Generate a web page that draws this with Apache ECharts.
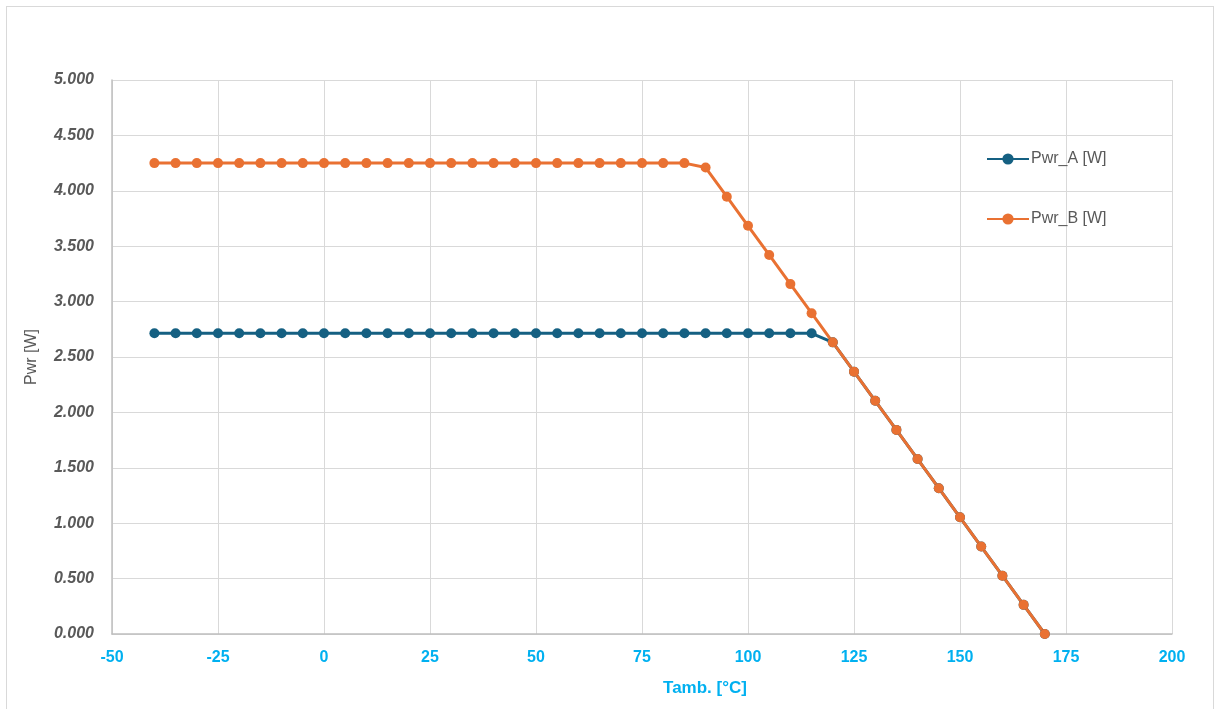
<!DOCTYPE html>
<html><head><meta charset="utf-8">
<script src="https://cdn.jsdelivr.net/npm/echarts@6/dist/echarts.min.js"></script>
<style>html,body{margin:0;padding:0;background:#fff}#c{width:1221px;height:709px}
#frame{position:absolute;left:6px;top:6px;width:1208px;height:710px;border:1px solid #d9d9d9;box-sizing:border-box;pointer-events:none}</style>
</head><body><div id="c"></div><div id="frame"></div>
<script>
const temps = [-40,-35,-30,-25,-20,-15,-10,-5,0,5,10,15,20,25,30,35,40,45,50,55,60,65,70,75,80,85,90,95,100,105,110,115,120,125,130,135,140,145,150,155,160,165,170];
const pwrA = [2.714,2.714,2.714,2.714,2.714,2.714,2.714,2.714,2.714,2.714,2.714,2.714,2.714,2.714,2.714,2.714,2.714,2.714,2.714,2.714,2.714,2.714,2.714,2.714,2.714,2.714,2.714,2.714,2.714,2.714,2.714,2.714,2.632,2.368,2.105,1.842,1.579,1.316,1.053,0.789,0.526,0.263,0.000];
const pwrB = [4.25,4.25,4.25,4.25,4.25,4.25,4.25,4.25,4.25,4.25,4.25,4.25,4.25,4.25,4.25,4.25,4.25,4.25,4.25,4.25,4.25,4.25,4.25,4.25,4.25,4.25,4.21,3.947,3.684,3.421,3.158,2.895,2.632,2.368,2.105,1.842,1.579,1.316,1.053,0.789,0.526,0.263,0.000];
const seriesNames = ['Pwr_A [W]','Pwr_B [W]'];
const xTitle = 'Tamb. [°C]';
const yTitle = 'Pwr [W]';

const chart = echarts.init(document.getElementById('c'));
const mk = arr => temps.map((t,i)=>[t,arr[i]]);
const FF = 'Liberation Sans, Arial, sans-serif';
chart.setOption({
  animation:false,
  grid:{left:112,right:49,top:80,bottom:75,containLabel:false},
  legend:{
    orient:'vertical', left:981, top:146, itemGap:44, itemWidth:42, itemHeight:14,
    textStyle:{fontFamily:FF,fontSize:16,color:'#595959',padding:[0,0,0,-3]},
    data:seriesNames
  },
  xAxis:{
    type:'value',min:-50,max:200,interval:25,
    name:xTitle,nameLocation:'middle',nameGap:46,
    nameTextStyle:{fontFamily:FF,fontSize:17,fontWeight:'bold',color:'#00B0F0',padding:[0,0,0,126]},
    axisLine:{show:true,onZero:false,lineStyle:{color:'#bfbfbf',width:1.5}},
    axisTick:{show:false},
    axisLabel:{margin:16,fontFamily:FF,fontSize:16,fontWeight:'bold',color:'#00B0F0'},
    splitLine:{show:true,lineStyle:{color:'#d9d9d9',width:1}}
  },
  yAxis:{
    type:'value',min:0,max:5,interval:0.5,
    name:yTitle,nameLocation:'middle',nameGap:72,nameRotate:90,
    nameTextStyle:{fontFamily:FF,fontSize:16,color:'#595959'},
    axisLine:{show:true,onZero:false,lineStyle:{color:'#bfbfbf',width:1.5}},
    axisTick:{show:false},
    axisLabel:{margin:18,formatter:v=>v.toFixed(3),fontFamily:FF,fontSize:16,fontWeight:'bold',fontStyle:'italic',color:'#595959'},
    splitLine:{show:true,lineStyle:{color:'#d9d9d9',width:1}}
  },
  series:[
    {name:seriesNames[0],type:'line',data:mk(pwrA),symbol:'circle',symbolSize:10,
     lineStyle:{color:'#156082',width:3},itemStyle:{color:'#156082'}},
    {name:seriesNames[1],type:'line',data:mk(pwrB),symbol:'circle',symbolSize:10,
     lineStyle:{color:'#E97132',width:3},itemStyle:{color:'#E97132'}}
  ]
});
</script></body></html>
